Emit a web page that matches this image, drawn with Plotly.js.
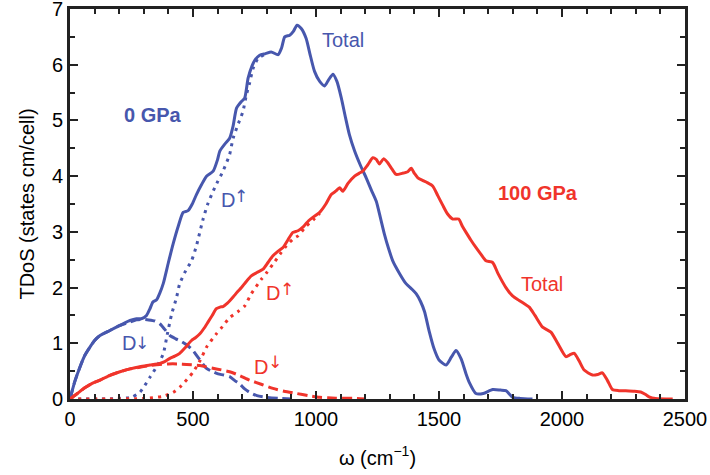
<!DOCTYPE html>
<html><head><meta charset="utf-8">
<script src="https://cdn.plot.ly/plotly-3.0.1.min.js"></script>
<style>html,body{margin:0;padding:0;background:#fff}#chart{width:710px;height:475px}</style>
</head><body><div id="chart"></div>
<script>
// 0 GPa, total
const blueTotX = [0,20,41,60,81,100,122,162,203,244,270,290,311,325,337,352,365,379,400,419,440,460,480,497,514,535,555,582,600,609,630,649,663,677,695,710,724,740,751,771,795,818,846,860,873,893,908,923,940,960,975,994,1015,1035,1050,1069,1085,1103,1120,1136,1157,1180,1204,1225,1245,1262,1278,1295,1312,1340,1366,1390,1407,1425,1441,1461,1480,1500,1529,1550,1569,1590,1610,1623,1650,1680,1718,1750,1772,1800,1830,1880];
const blueTotY = [0,0.32,0.58,0.78,0.93,1.05,1.14,1.23,1.32,1.41,1.44,1.44,1.5,1.62,1.74,1.78,1.9,2.07,2.45,2.78,3.1,3.35,3.38,3.5,3.67,3.85,4.0,4.09,4.3,4.45,4.58,4.68,4.9,5.22,5.33,5.4,5.76,5.98,6.08,6.17,6.2,6.23,6.18,6.3,6.5,6.53,6.6,6.71,6.65,6.47,6.2,5.88,5.7,5.62,5.72,5.83,5.7,5.4,5.05,4.74,4.45,4.2,3.97,3.75,3.55,3.25,2.96,2.7,2.48,2.25,2.07,1.97,1.89,1.75,1.57,1.2,0.9,0.7,0.61,0.75,0.87,0.72,0.45,0.3,0.1,0.1,0.17,0.16,0.15,0.03,0.01,0];
// 0 GPa, D-up (dotted)
const blueUpX = [0,100,200,250,284,325,355,379,395,413,433,446,470,494,514,541,560,582,600,622,649,663,685,703,717,730,744,764,790];
const blueUpY = [0,0,0.01,0.03,0.12,0.39,0.6,0.81,1.15,1.52,1.82,2.07,2.3,2.48,2.75,3.23,3.5,3.73,3.9,4.09,4.39,4.68,4.95,5.16,5.46,5.67,5.93,6.11,6.18];
// 0 GPa, D-down (dashed)
const blueDnX = [0,20,41,60,81,100,122,162,203,244,270,295,320,345,365,385,406,430,453,475,500,525,555,580,602,625,649,670,690,710,730,760,800,850,900];
const blueDnY = [0,0.32,0.58,0.78,0.93,1.05,1.14,1.23,1.32,1.38,1.42,1.43,1.42,1.4,1.35,1.25,1.14,1.08,1.03,0.97,0.87,0.72,0.55,0.49,0.45,0.43,0.4,0.33,0.27,0.18,0.12,0.06,0.03,0.01,0];
// 100 GPa, total
const redTotX = [0,30,60,90,122,160,203,244,284,325,365,385,406,426,446,470,494,510,528,545,561,578,595,610,622,640,663,680,697,715,737,760,785,805,825,845,866,885,906,927,950,970,987,1015,1040,1062,1080,1096,1109,1130,1157,1175,1190,1210,1231,1245,1258,1274,1290,1310,1326,1350,1373,1387,1400,1414,1435,1454,1475,1495,1515,1535,1556,1580,1595,1610,1630,1650,1670,1691,1718,1740,1772,1799,1826,1850,1867,1890,1921,1955,1985,2016,2035,2050,2070,2090,2124,2145,2164,2185,2205,2230,2259,2290,2320,2340,2354,2380,2450];
const redTotY = [0,0.1,0.2,0.28,0.34,0.42,0.49,0.54,0.58,0.61,0.64,0.67,0.73,0.77,0.82,0.93,1.05,1.1,1.17,1.27,1.38,1.5,1.62,1.65,1.66,1.72,1.83,1.92,2.0,2.1,2.21,2.27,2.33,2.45,2.57,2.65,2.72,2.85,2.99,3.02,3.1,3.2,3.26,3.35,3.5,3.67,3.73,3.79,3.73,3.87,4.0,4.05,4.09,4.2,4.33,4.3,4.22,4.31,4.25,4.12,4.03,4.05,4.08,4.14,4.05,3.97,3.92,3.88,3.82,3.65,3.48,3.32,3.23,3.23,3.1,2.99,2.85,2.72,2.6,2.48,2.45,2.25,2.0,1.85,1.77,1.7,1.65,1.5,1.29,1.2,0.98,0.76,0.8,0.82,0.68,0.52,0.43,0.44,0.47,0.33,0.17,0.15,0.15,0.14,0.125,0.08,0.04,0.01,0];
// 100 GPa, D-up (dotted)
const redUpX = [0,150,300,380,420,453,500,530,555,595,620,649,683,710,737,778,800,825,859,880,906,927,960,990,1015];
const redUpY = [0,0,0.01,0.05,0.12,0.24,0.48,0.7,0.93,1.17,1.3,1.46,1.57,1.67,1.89,2.15,2.27,2.42,2.63,2.75,2.87,2.93,3.1,3.22,3.33];
// 100 GPa, D-down (dashed)
const redDnX = [0,30,60,90,122,160,203,244,284,325,365,400,440,474,528,595,649,690,730,780,825,870,920,970,1015,1080,1164,1200];
const redDnY = [0,0.1,0.2,0.28,0.34,0.42,0.49,0.54,0.57,0.6,0.62,0.63,0.63,0.62,0.6,0.54,0.49,0.42,0.34,0.26,0.19,0.14,0.1,0.06,0.03,0.015,0.01,0];

const xTicks = [0,500,1000,1500,2000,2500];
const yTicks = [0,1,2,3,4,5,6,7];

const BLUE = '#4757ad', RED = '#f0342b';
const FONT = 'Liberation Sans, Arial, Helvetica, sans-serif';
const ARROWFONT = 'DejaVu Sans, sans-serif';
const DOT = '3px,5px', DASH = '10px,5px';

function tr(x, y, color, dash) {
  return {x: x, y: y, type: 'scatter', mode: 'lines',
    line: {color: color, width: 3, dash: dash, shape: 'spline', smoothing: 0.6}, hoverinfo: 'skip'};
}
const data = [
  tr(blueUpX, blueUpY, BLUE, DOT),
  tr(blueDnX, blueDnY, BLUE, DASH),
  tr(redUpX, redUpY, RED, DOT),
  tr(redDnX, redDnY, RED, DASH),
  tr(blueTotX, blueTotY, BLUE, 'solid'),
  tr(redTotX, redTotY, RED, 'solid')
];

function ann(x, y, text, color, bold, size, family) {
  return {x: x, y: y, xref: 'x', yref: 'y', text: text, showarrow: false,
    font: {family: family || FONT, size: size || 20, color: color, weight: bold ? 'bold' : 'normal'},
    xanchor: 'center', yanchor: 'middle'};
}
const axisCommon = {
  showgrid: false, zeroline: false, showline: true, linecolor: '#222', linewidth: 3,
  mirror: 'ticks', ticks: 'inside', ticklen: 8, tickwidth: 2, tickcolor: '#222',
  ticklabeloverflow: 'allow',
  tickfont: {family: FONT, size: 20, color: '#000'}
};
const layout = {
  width: 710, height: 475,
  margin: {l: 70, r: 25, t: 9, b: 76},
  paper_bgcolor: '#fff', plot_bgcolor: '#fff',
  showlegend: false,
  xaxis: Object.assign({}, axisCommon, {
    range: [0, 2500], tickvals: xTicks, ticktext: xTicks.map(String),
    minor: {dtick: 100, ticks: 'inside', ticklen: 5, tickwidth: 2, tickcolor: '#222'},
    title: {text: 'ω (cm<sup>−1</sup>)', font: {family: FONT, size: 20, color: '#000'}, standoff: 22}
  }),
  yaxis: Object.assign({}, axisCommon, {
    range: [0, 7], tickvals: yTicks, ticktext: yTicks.map(String),
    minor: {dtick: 0.5, ticks: 'inside', ticklen: 5, tickwidth: 2, tickcolor: '#222'},
    title: {text: 'TDoS (states cm/cell)', font: {family: FONT, size: 20, color: '#000'}, standoff: 12}
  }),
  annotations: [
    ann(337, 5.1, '0 GPa', BLUE, true),
    ann(1903, 3.7, '100 GPa', RED, true),
    ann(1108, 6.45, 'Total', BLUE, false),
    ann(1920, 2.07, 'Total', RED, false),
    ann(642, 3.57, 'D', BLUE, false),
    ann(694, 3.65, '↑', BLUE, false, 17, ARROWFONT),
    ann(825, 1.9, 'D', RED, false),
    ann(883, 1.98, '↑', RED, false, 17, ARROWFONT),
    ann(240, 1.0, 'D', BLUE, false),
    ann(294, 1.0, '↓', BLUE, false, 17, ARROWFONT),
    ann(776, 0.58, 'D', RED, false),
    ann(834, 0.66, '↓', RED, false, 17, ARROWFONT)
  ]
};
Plotly.newPlot('chart', data, layout, {staticPlot: true, displayModeBar: false});
</script></body></html>
